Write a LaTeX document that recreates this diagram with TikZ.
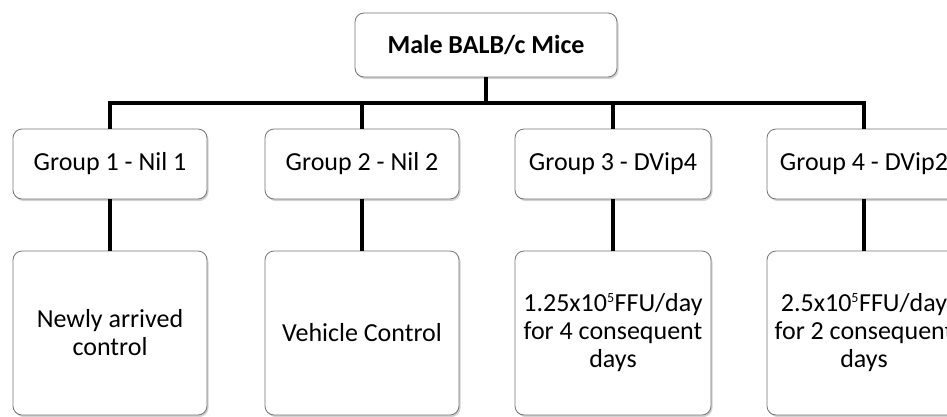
\documentclass[tikz,border=0pt]{standalone}
\usepackage{fontspec}
\setmainfont{Carlito}
\usetikzlibrary{shadows}
\begin{document}
\begin{tikzpicture}[x=1pt,y=-1pt,
  boxstyle/.style={draw=black!55, line width=0.8pt, fill=white, rounded corners=9pt,
    drop shadow={shadow xshift=1.5pt, shadow yshift=-2pt, opacity=0.35}, inner sep=0pt,
    align=center, font=\fontsize{26}{28}\selectfont},
  conn/.style={line width=3.5pt, black}]
\useasboundingbox (0,0) rectangle (947,416);
\begin{scope}
\clip (0,0) rectangle (947,416);
\node[boxstyle, minimum width=262pt, minimum height=64pt, font=\bfseries\fontsize{26}{28}\selectfont] (top) at (486,45) {Male BALB/c Mice};
\node[boxstyle, minimum width=194pt, minimum height=70pt] (g1) at (110,164) {Group 1 - Nil 1};
\node[boxstyle, minimum width=194pt, minimum height=70pt] (g2) at (362,164) {Group 2 - Nil 2};
\node[boxstyle, minimum width=196pt, minimum height=70pt] (g3) at (613,164) {Group 3 - DVip4};
\node[boxstyle, minimum width=194pt, minimum height=70pt] (g4) at (864,164) {Group 4 - DVip2};
\node[boxstyle, minimum width=194pt, minimum height=164pt] (b1) at (110,333) {Newly arrived\\control};
\node[boxstyle, minimum width=194pt, minimum height=164pt] (b2) at (362,333) {Vehicle Control};
\node[boxstyle, minimum width=196pt, minimum height=164pt] (b3) at (613,333) {1.25x10\textsuperscript{\fontsize{14}{14}\selectfont 5}FFU/day\\for 4 consequent\\days};
\node[boxstyle, minimum width=194pt, minimum height=164pt] (b4) at (864,333) {2.5x10\textsuperscript{\fontsize{14}{14}\selectfont 5}FFU/day\\for 2 consequent\\days};
\coordinate (bar) at (486,103);
\draw[conn] (top.south) -- (bar);
\draw[conn] (g1.north) |- (bar) -| (g4.north);
\draw[conn] (g2.north) -- (g2.north |- bar);
\draw[conn] (g3.north) -- (g3.north |- bar);
\draw[conn] (g1.south) -- (b1.north);
\draw[conn] (g2.south) -- (b2.north);
\draw[conn] (g3.south) -- (b3.north);
\draw[conn] (g4.south) -- (b4.north);
\end{scope}
\end{tikzpicture}
\end{document}
